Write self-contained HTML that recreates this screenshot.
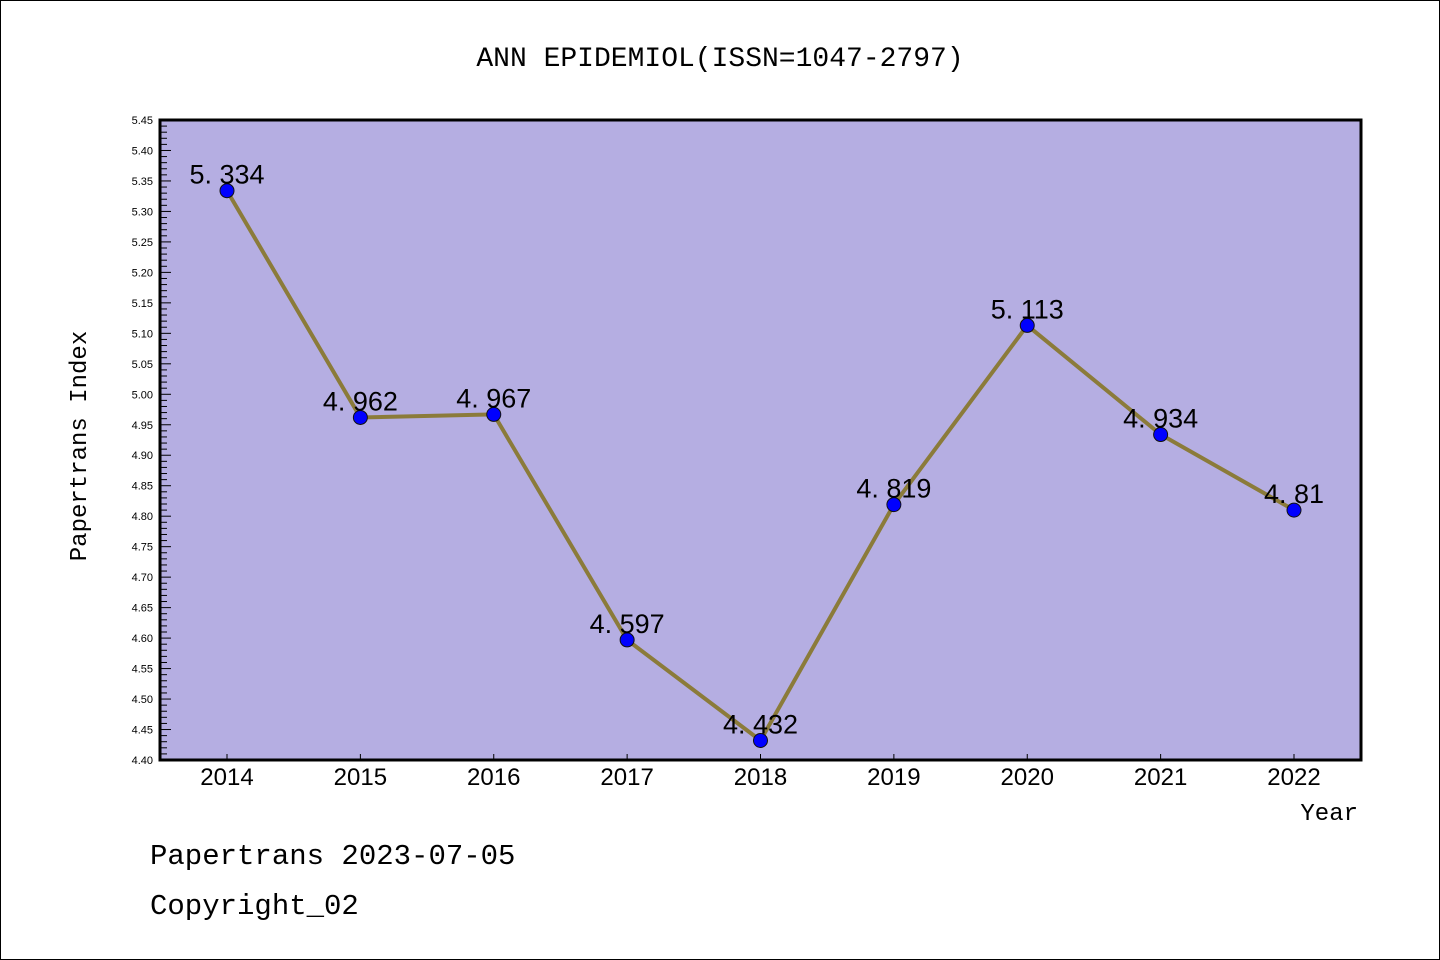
<!DOCTYPE html>
<html><head><meta charset="utf-8"><style>
body{margin:0;background:#fff;}
svg{display:block;font-family:"Liberation Sans","DejaVu Sans",sans-serif;}
.mono{font-family:"Liberation Mono","DejaVu Sans Mono",monospace;}
</style></head><body>
<svg id="chart" width="1440" height="960">
<rect x="0.5" y="0.5" width="1439" height="959" fill="#fff" stroke="#000"/>
<text x="720" y="66" font-size="28" text-anchor="middle" class="mono">ANN EPIDEMIOL(ISSN=1047-2797)</text>
<rect x="160" y="120" width="1201" height="640" fill="#b5aee2"/>
<g id="axes"></g>
<g id="series"></g>
<rect x="160" y="120" width="1201" height="640" fill="none" stroke="#000" stroke-width="3"/>
<text x="86" y="446" font-size="24" text-anchor="middle" class="mono" transform="rotate(-90 86 446)">Papertrans Index</text>
<text x="1358" y="820" font-size="24" text-anchor="end" class="mono">Year</text>
<text x="150" y="864" font-size="29" class="mono">Papertrans 2023-07-05</text>
<text x="150" y="914" font-size="29" class="mono">Copyright_02</text>
</svg>
<script>
const years=["2014","2015","2016","2017","2018","2019","2020","2021","2022"];
const values=[5.334,4.962,4.967,4.597,4.432,4.819,5.113,4.934,4.81];
const valueLabels=["5.334","4.962","4.967","4.597","4.432","4.819","5.113","4.934","4.81"];
const yMin=4.40,yMax=5.45;
const NS="http://www.w3.org/2000/svg";
function xs(i){return 227+i*(1294-227)/(years.length-1);}
function ys(v){return 760-(v-yMin)/(yMax-yMin)*640;}
function mk(t,a,p){const e=document.createElementNS(NS,t);for(const k in a)e.setAttribute(k,a[k]);p.appendChild(e);return e;}
const ax=document.getElementById('axes'),sr=document.getElementById('series');
const nMinor=Math.round((yMax-yMin)/0.01);
for(let k=0;k<=nMinor;k++){
  const v=yMin+k*0.01,y=ys(v),major=k%5===0;
  const t=mk('line',{x1:160,x2:major?171:167,y1:y,y2:y,stroke:'#000','stroke-width':1},ax);
  
  
  if(major){const l=mk('text',{x:153,y:y+4,'font-size':11,'text-anchor':'end'},ax);l.textContent=v.toFixed(2);
    
    }
}
years.forEach((yr,i)=>{
  const x=xs(i);
  const t=mk('line',{x1:x,x2:x,y1:760,y2:754,stroke:'#000','stroke-width':1},ax);
  
  
  const l=mk('text',{x:x,y:785,'font-size':24,'text-anchor':'middle'},ax);l.textContent=yr;
  
  
});
const pl=mk('polyline',{points:values.map((v,i)=>xs(i)+','+ys(v)).join(' '),fill:'none',stroke:'#8b7b3a','stroke-width':4},sr);


values.forEach((v,i)=>{
  const c=mk('circle',{cx:xs(i),cy:ys(v),r:7,fill:'#0000ff',stroke:'#111','stroke-width':1},sr);
  
  
  const l=mk('text',{x:xs(i),y:ys(v)-7,'font-size':27,'text-anchor':'middle'},sr);l.textContent=valueLabels[i].replace('.','. ');
  
  
});
</script>
</body></html>
